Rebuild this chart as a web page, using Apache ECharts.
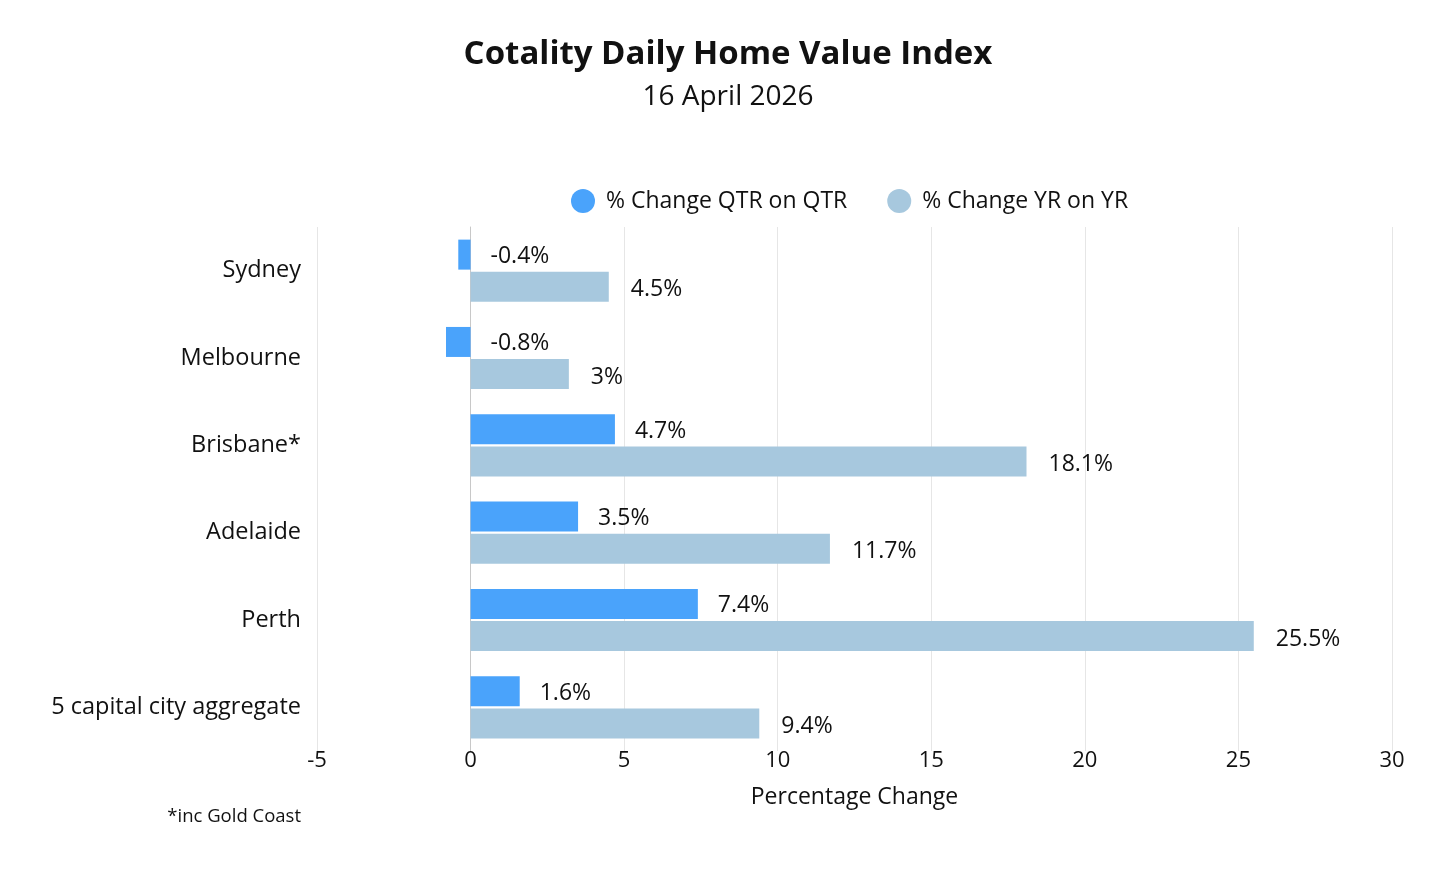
<!DOCTYPE html>
<html>
<head>
<meta charset="utf-8">
<script src="https://cdn.jsdelivr.net/npm/echarts@6/dist/echarts.min.js"></script>
<style>
html,body{margin:0;padding:0;background:#fff;}
#chart{width:1456px;height:874px;}
</style>
</head>
<body>
<div id="chart"></div>
<script>
const categories = ['Sydney', 'Melbourne', 'Brisbane*', 'Adelaide', 'Perth', '5 capital city aggregate'];
const qtrValues = [-0.4, -0.8, 4.7, 3.5, 7.4, 1.6];
const yrValues = [4.5, 3.2, 18.1, 11.7, 25.5, 9.4];
const yrLabels = ['4.5%', '3%', '18.1%', '11.7%', '25.5%', '9.4%'];
const qtrLabels = ['-0.4%', '-0.8%', '4.7%', '3.5%', '7.4%', '1.6%'];
const seriesNames = ['% Change QTR on QTR', '% Change YR on YR'];

const FONT = 'Open Sans';
const chart = echarts.init(document.getElementById('chart'));
chart.setOption({
  backgroundColor: '#fff',
  textStyle: { fontFamily: FONT, color: '#111' },
  title: [
    { text: 'Cotality Daily Home Value Index', left: 'center', top: 33,
      textStyle: { fontFamily: FONT, fontSize: 33, fontWeight: 'bold', color: '#111' } },
    { text: '16 April 2026', left: 'center', top: 78,
      textStyle: { fontFamily: FONT, fontSize: 28, fontWeight: 'normal', color: '#111' } },
    { text: '*inc Gold Coast', right: 1150, top: 802,
      textStyle: { fontFamily: FONT, fontSize: 18.5, fontWeight: 'normal', color: '#111' } }
  ],
  legend: {
    data: seriesNames,
    left: 566, top: 184,
    icon: 'circle', itemWidth: 24, itemHeight: 24, itemGap: 40,
    textStyle: { fontFamily: FONT, fontSize: 23, color: '#111', padding: [0, 0, 0, 6] }
  },
  grid: { left: 317, right: 64, top: 227, bottom: 123, containLabel: false },
  xAxis: {
    type: 'value', min: -5, max: 30, interval: 5,
    name: 'Percentage Change', nameLocation: 'middle', nameGap: 35,
    nameTextStyle: { fontFamily: FONT, fontSize: 23, color: '#111' },
    axisLine: { show: false }, axisTick: { show: false },
    axisLabel: { fontFamily: FONT, fontSize: 22, color: '#111', margin: -1 },
    splitLine: { show: true, lineStyle: { color: '#e6e6e6', width: 1 } }
  },
  yAxis: {
    type: 'category', data: categories, inverse: true,
    axisLine: { show: true, onZero: true, lineStyle: { color: '#c8c8c8', width: 1 } },
    axisTick: { show: false },
    axisLabel: { fontFamily: FONT, fontSize: 23.5, color: '#111', margin: 16 }
  },
  series: [
    {
      name: seriesNames[0], type: 'bar', data: qtrValues,
      barWidth: 30, barGap: '7%',
      itemStyle: { color: '#4aa3fb' },
      label: { show: true, position: 'right', distance: 20, offset: [0, 2],
        fontFamily: FONT, fontSize: 23, color: '#111',
        formatter: p => qtrLabels[p.dataIndex] }
    },
    {
      name: seriesNames[1], type: 'bar', data: yrValues,
      barWidth: 30, barGap: '7%',
      itemStyle: { color: '#a7c8de' },
      label: { show: true, position: 'right', distance: 22, offset: [0, 3],
        fontFamily: FONT, fontSize: 23, color: '#111',
        formatter: p => yrLabels[p.dataIndex] }
    }
  ]
});
</script>
</body>
</html>
